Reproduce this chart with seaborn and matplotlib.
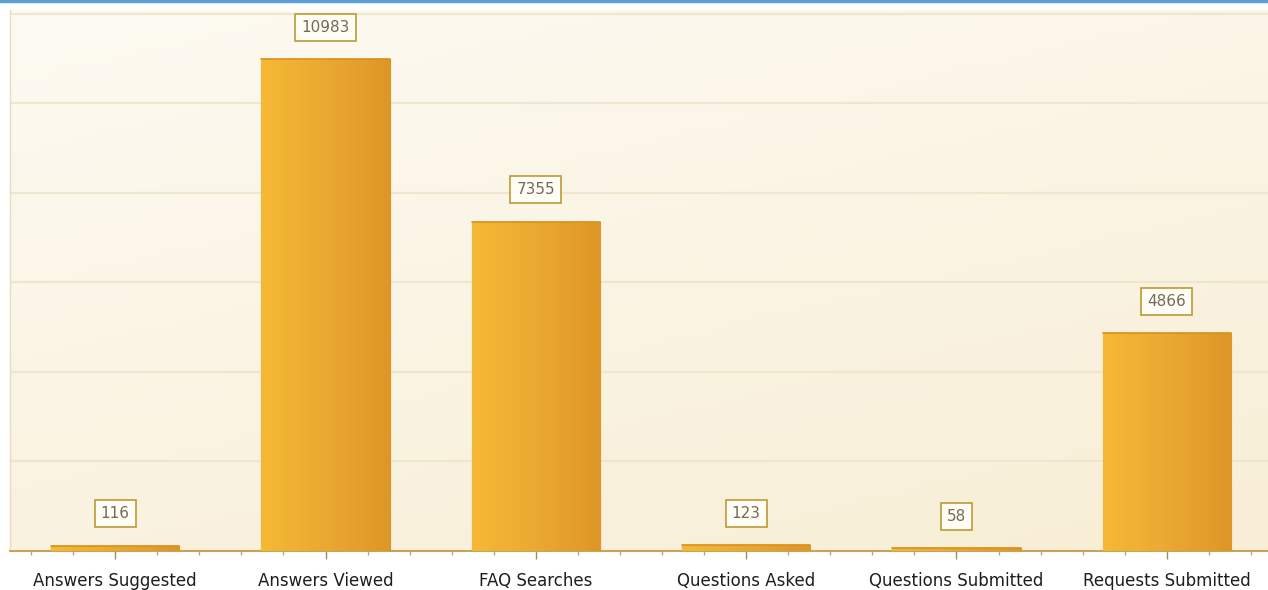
import numpy as np
import pandas as pd
import matplotlib
matplotlib.use("Agg")
import matplotlib.pyplot as plt
import seaborn as sns
from matplotlib.ticker import MultipleLocator
from matplotlib.colors import LinearSegmentedColormap

categories = ["Answers Suggested", "Answers Viewed", "FAQ Searches",
              "Questions Asked", "Questions Submitted", "Requests Submitted"]
values = [116, 10983, 7355, 123, 58, 4866]

df = pd.DataFrame({"category": categories, "value": values})

sns.set_theme(style="white")
plt.rcParams["font.family"] = ["DejaVu Sans"]

W, H = 1268, 590
fig = plt.figure(figsize=(W / 100, H / 100), dpi=100, facecolor="white")
left_px, right_px, top_px, bottom_px = 10, 1272, 10, 551
ax = fig.add_axes([left_px / W, (H - bottom_px) / H,
                   (right_px - left_px) / W, (bottom_px - top_px) / H])

sns.barplot(data=df, x="category", y="value", ax=ax, color="#eaa93a",
            width=0.61, saturation=1, zorder=3)

ax.set_xlim(-0.5, len(categories) - 0.5)
ax.set_ylim(0, 12080)

# background gradient
bg = LinearSegmentedColormap.from_list("bg", ["#fdfaf2", "#f8eed5"])
yy, xx = np.mgrid[0:1:100j, 0:1:100j]
grad = 0.35 * xx + 0.65 * yy
ax.imshow(grad, cmap=bg, extent=[0, 1, 0, 1], transform=ax.transAxes,
          aspect="auto", zorder=0, origin="upper")
ax.set_facecolor("#fbf4e2")

# gridlines
ax.yaxis.set_major_locator(MultipleLocator(2000))
ax.grid(axis="y", color="#eee6cf", linewidth=1.6, zorder=1)
ax.set_axisbelow(True)

# gradient bars
barcmap = LinearSegmentedColormap.from_list("bar", ["#f6b935", "#eaa932", "#de9626"])
hgrad = np.linspace(0, 1, 256).reshape(1, -1)
for p in ax.patches:
    x0, y0 = p.get_x(), p.get_y()
    w, h = p.get_width(), p.get_height()
    im = ax.imshow(hgrad, cmap=barcmap, extent=[x0, x0 + w, y0, y0 + h],
                   aspect="auto", zorder=4, interpolation="bilinear")
    im.set_clip_path(p)
    p.set_edgecolor("#d89224")
    p.set_linewidth(0.8)
    ax.plot([x0, x0 + w], [y0 + h, y0 + h], color="#d8901c", lw=1.2, zorder=5)

ax.set_xlim(-0.5, len(categories) - 0.5)
ax.set_ylim(0, 12080)

# value labels
for i, v in enumerate(values):
    ax.annotate(str(v), xy=(i, v), xytext=(0, 23), textcoords="offset points",
                ha="center", va="center", fontsize=11, color="#746a55", zorder=6,
                bbox=dict(boxstyle="square,pad=0.4", fc="#fffdf6", ec="#bc9a36", lw=1.2))

# axes styling
for s in ["top", "right"]:
    ax.spines[s].set_visible(False)
ax.spines["left"].set_color("#e8dcbc")
ax.spines["left"].set_linewidth(1)
ax.spines["bottom"].set_color("#c49a48")
ax.spines["bottom"].set_linewidth(1.3)

ax.set_yticklabels([])
ax.tick_params(axis="y", length=0)
ax.xaxis.set_minor_locator(MultipleLocator(0.2))
ax.tick_params(axis="x", which="major", direction="out", length=6, width=1,
               color="#9c8a60", labelsize=12, labelcolor="#1e1e1e", pad=9, bottom=True)
ax.tick_params(axis="x", which="minor", direction="out", length=3, width=1,
               color="#b8a880", bottom=True)
ax.set_xlabel("")
ax.set_ylabel("")

# blue top line
fig.add_artist(plt.Line2D([0, 1], [1 - 1 / H, 1 - 1 / H], transform=fig.transFigure,
                          color="#5b9fd6", lw=2.5))

fig.savefig("out.png", dpi=100, facecolor="white")
